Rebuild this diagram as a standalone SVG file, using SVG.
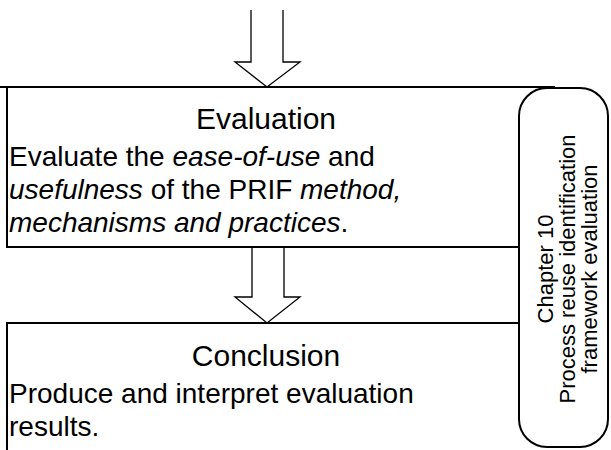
<svg xmlns="http://www.w3.org/2000/svg" width="611" height="450" viewBox="0 0 611 450">
<style>
.ln{fill:none;stroke:#000;stroke-width:2}
.arr{fill:#fff;stroke:#000;stroke-width:1.3}
text{font-family:"Liberation Sans",Arial,sans-serif;fill:#000}
.t{font-size:30px;text-anchor:middle}
.b{font-size:28px}
.r{font-size:22px;text-anchor:middle}
</style>
<rect width="611" height="450" fill="#fff"/>
<g id="chapter">
<rect x="519" y="88" width="89" height="359" rx="28" ry="28" class="ln"/>
<text class="r" transform="translate(545,269) rotate(-90)" y="8">Chapter 10</text>
<text class="r" transform="translate(567,269) rotate(-90)" y="8">Process reuse identification</text>
<text class="r" transform="translate(589,269) rotate(-90)" y="8">framework evaluation</text>
</g>
<g id="evaluation">
<path class="ln" d="M0,87 H555 M7,87 V247 H519"/>
<text class="t" x="266" y="129">Evaluation</text>
<text class="b" x="9" y="166">Evaluate the <tspan font-style="italic">ease-of-use</tspan> and</text>
<text class="b" x="9" y="199"><tspan font-style="italic">usefulness</tspan> of the PRIF <tspan font-style="italic">method,</tspan></text>
<text class="b" x="9" y="232"><tspan font-style="italic">mechanisms and practices</tspan>.</text>
</g>
<g id="conclusion">
<path class="ln" d="M519,323 H7 V450"/>
<text class="t" x="266" y="366">Conclusion</text>
<text class="b" x="9" y="403">Produce and interpret evaluation</text>
<text class="b" x="9" y="436">results.</text>
</g>
<g id="connectors">
<path class="arr" d="M251,10 V62 H235 L267,87 L300,62 H283 V10"/>
<path class="arr" d="M252,248 V297 H235 L267,323 L300,297 H284 V248"/>
</g>
</svg>
